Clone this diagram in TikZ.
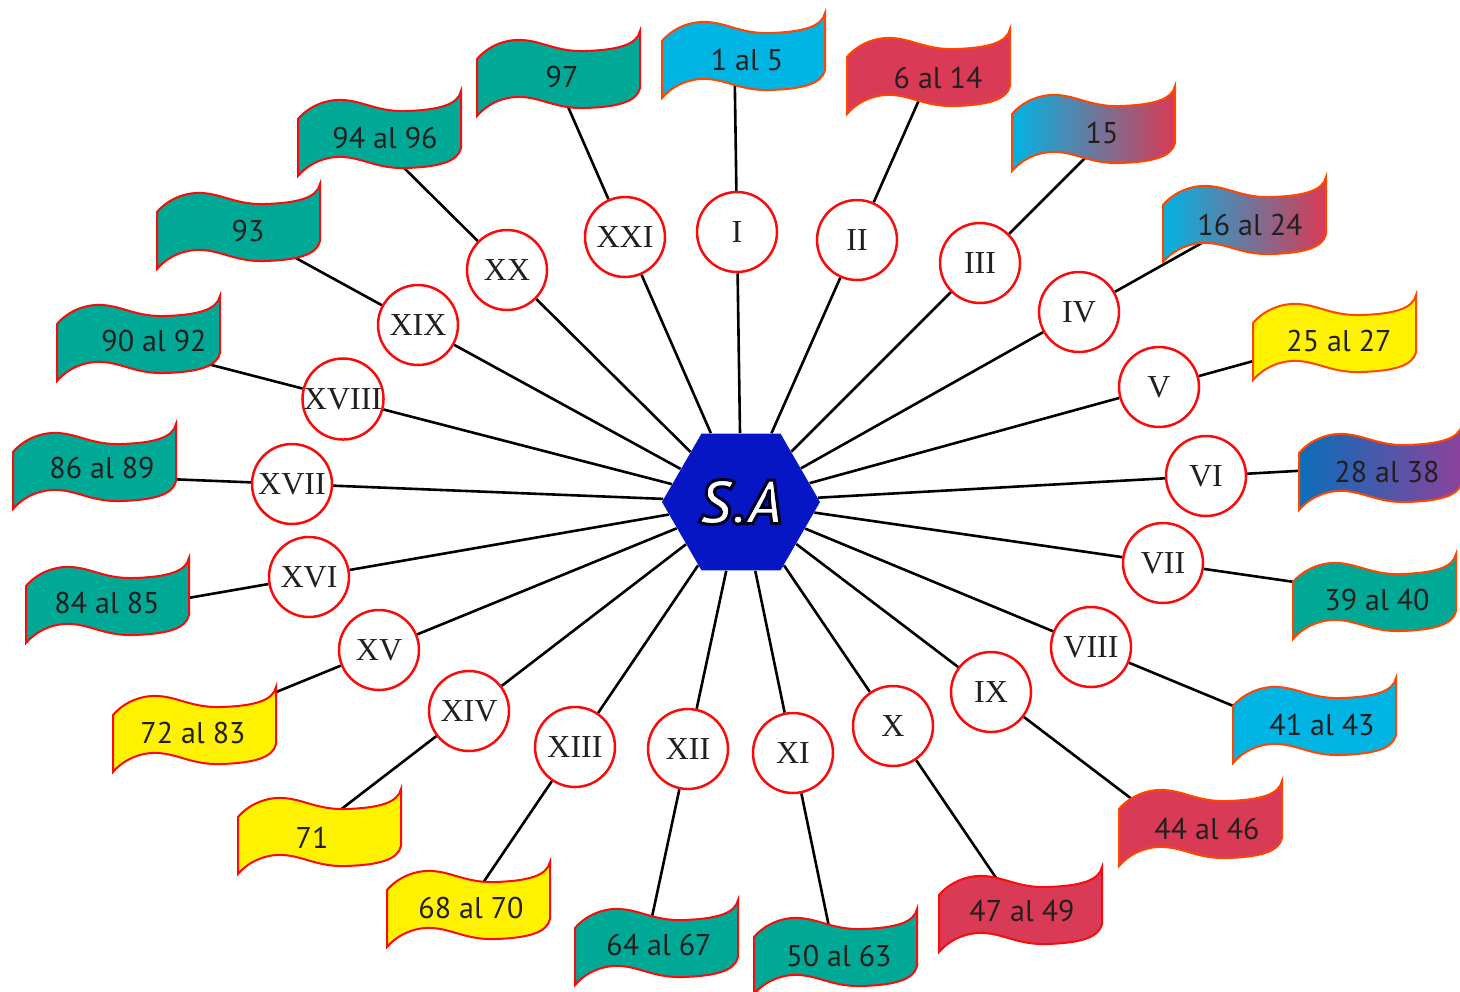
\documentclass[tikz,border=0pt]{standalone}
\usepackage{fontspec}
\setmainfont{Liberation Serif}
\newfontfamily\flagfont{PT Sans}
\usetikzlibrary{shapes.geometric,calc}
\definecolor{myteal}{RGB}{0,168,150}
\definecolor{mycyan}{RGB}{0,180,228}
\definecolor{myrose}{RGB}{217,58,85}
\definecolor{myyellow}{RGB}{255,242,0}
\definecolor{myblue}{RGB}{10,110,185}
\definecolor{mypurple}{RGB}{140,66,156}
\definecolor{myorange}{RGB}{255,70,0}
\definecolor{myred}{RGB}{250,10,10}
\definecolor{myhex}{RGB}{6,22,196}
\definecolor{mytext}{RGB}{35,31,32}
\pgfdeclarelayer{background}
\pgfsetlayers{background,main}
% white letters with a dark rim (fill + stroke text mode)
\newcommand\glowtext[1]{\special{pdf:literal direct 2 Tr 1.5 w 0 0 0.12 RG}#1\special{pdf:literal direct 0 Tr}}

\begin{document}
\begin{tikzpicture}[x=0.5pt, y=-0.5pt,
    rnum/.style={circle, draw=myred, line width=1.25pt, fill=white,
        minimum size=40pt, inner sep=0pt, text=mytext,
        font=\fontsize{16}{16}\selectfont},
    flagtext/.style={text=mytext, inner sep=1pt,
        font=\flagfont\fontsize{15}{15}\selectfont},
    flagline/.style={line width=1pt},
    spoke/.style={black, line width=1.3pt},
    hexa/.style={regular polygon, regular polygon sides=6,
        minimum size=79pt, inner sep=0pt, fill=myhex, text=white,
        font=\flagfont\bfseries\itshape\fontsize{31}{31}\selectfont}]
        \useasboundingbox (0,0) rectangle (1460,991);

        % -- centre hexagon --
        \node[hexa] (sa) at (741,502) {\glowtext{S.A}};

        % -- roman numeral circles --
        \foreach \n/\r/\x/\y in {
            1/I/737/232, 2/II/857/240, 3/III/980/263, 4/IV/1079/312,
            5/V/1159/387, 6/VI/1206/476, 7/VII/1163/563, 8/VIII/1091/647,
            9/IX/991/692, 10/X/893/726, 11/XI/793/753, 12/XII/688/749,
            13/XIII/575/747, 14/XIV/469/711, 15/XV/379/650, 16/XVI/309/577,
            17/XVII/292/484, 18/XVIII/343/399, 19/XIX/418/325, 20/XX/507/270,
            21/XXI/625/237
        }{
            \node[rnum] (c\n) at (\x,\y) {\r};
        }

        % -- wavy flags: corner (lx,ly) of the left edge, text at (tx,ty),
        %    k = how far the spoke runs towards the flag text --
        \foreach \n/\lx/\ly/\tx/\ty/\ca/\cb/\ce/\k/\txt in {
            1/662/41/747/60/mycyan/mycyan/myorange/1/1 al 5,
            2/847/57/938/78/myrose/myrose/myorange/1/6 al 14,
            3/1012/114/1102/133/mycyan/myrose/myorange/1/15,
            4/1163/205/1250/225/mycyan/myrose/myorange/1/16 al 24,
            5/1253/323/1339/341/myyellow/myyellow/myorange/1/25 al 27,
            6/1299/453/1387/472/myblue/mypurple/myorange/1/28 al 38,
            7/1293/582/1377/600/myteal/myteal/myorange/1/39 al 40,
            8/1233/706/1322/725/mycyan/mycyan/myorange/1/41 al 43,
            9/1119/809/1207/829/myrose/myrose/myorange/1/44 al 46,
            10/939/895/1022/911/myrose/myrose/myred/1/47 al 49,
            11/754/937/839/956/myteal/myteal/myred/1/50 al 63,
            12/575/928/659/945/myteal/myteal/myred/1/64 al 67,
            13/387/890/471/908/myyellow/myyellow/myred/1/68 al 70,
            14/238/817/312/838/myyellow/myyellow/myred/1/71,
            15/113/715/193/733/myyellow/myyellow/myred/0.55/72 al 83,
            16/26/586/107/603/myteal/myteal/myred/1/84 al 85,
            17/13/452/102/468/myteal/myteal/myred/1/86 al 89,
            18/57/324/154/341/myteal/myteal/myred/1/90 al 92,
            19/157/212/248/231/myteal/myteal/myred/1/93,
            20/298/119/385/138/myteal/myteal/myred/1/94 al 96,
            21/477/59/562/77/myteal/myteal/myred/1/97
        }{
            \begin{scope}[shift={(\lx,\ly)}]
                \draw[flagline, draw=\ce, left color=\ca, right color=\cb]
                    (0,0) .. controls (12,-14) and (30,-20) .. (45,-19)
                    .. controls (65,-18) and (80,-7) .. (108,-8)
                    .. controls (140,-9) and (160,-14) .. (163,-28)
                    -- (163,29)
                    .. controls (160,43) and (140,48) .. (108,49)
                    .. controls (80,50) and (65,39) .. (45,38)
                    .. controls (30,37) and (12,43) .. (0,57) -- cycle;
            \end{scope}
            \node[flagtext] (f\n) at (\tx,\ty) {\txt};
            \coordinate (p\n) at ($(c\n.center)!\k!($(sa.center)!(f\n.center)!(c\n.center)$)$);
        }

        % -- spokes: radial from the hexagon, through the circle, into the flag --
        \begin{pgfonlayer}{background}
            \foreach \n in {1,...,21}
                \draw[spoke] (sa) -- (c\n) -- (p\n);
        \end{pgfonlayer}
\end{tikzpicture}
\end{document}
